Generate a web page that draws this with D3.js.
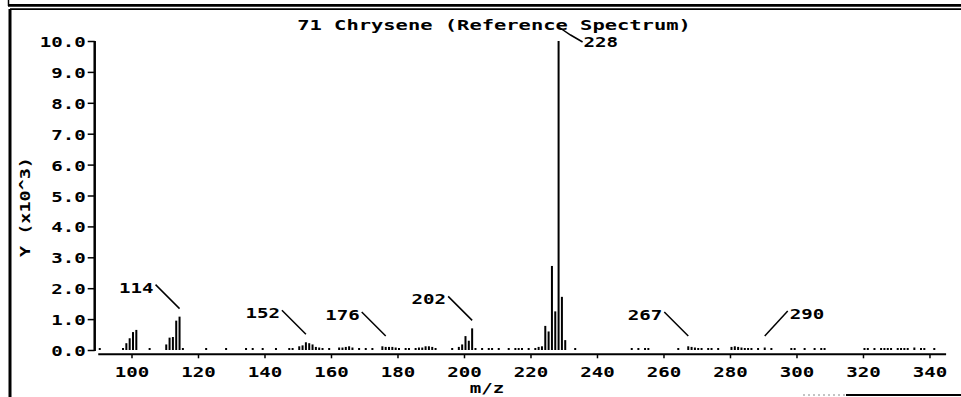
<!DOCTYPE html>
<html><head><meta charset="utf-8">
<script src="https://cdn.jsdelivr.net/npm/d3@7"></script>
<style>
html,body{margin:0;padding:0;background:#fff;}
svg{display:block;}
text{font-family:"DejaVu Sans Mono",monospace;font-weight:bold;fill:#000;font-size:14px;}
</style></head><body>
<svg id="chart" width="961" height="397"></svg>
<script>
// ---------- data ----------
const titleText = "71 Chrysene (Reference Spectrum)";
const xLabel = "m/z";
const yLabel = "Y (x10^3)";
const xTicks = [100,120,140,160,180,200,220,240,260,280,300,320,340];
const yTicks = [0,1,2,3,4,5,6,7,8,9,10];
const mzValues = [90,97,98,99,100,101,105,110,111,112,113,114,115,122,128,134,136,139,143,147,148,
  150,151,152,153,154,155,156,157,159,162,163,164,165,166,168,170,172,175,176,177,178,179,180,182,183,
  185,186,187,188,189,190,191,196,198,199,200,201,202,203,205,207,208,210,213,215,216,217,219,221,222,
  223,224,225,226,227,228,229,230,233,250,252,254,255,264,267,268,269,270,271,273,274,276,280,281,282,
  283,284,285,286,288,290,292,298,299,302,305,307,308,320,321,323,325,326,327,328,330,331,332,333,335,
  337,338,341];
const intensities = [0.06,0.05,0.22,0.38,0.58,0.65,0.05,0.18,0.40,0.42,0.95,1.08,0.06,0.05,0.05,0.06,0.06,0.06,0.06,0.05,0.05,
  0.12,0.15,0.25,0.22,0.18,0.10,0.08,0.05,0.05,0.08,0.08,0.10,0.12,0.08,0.05,0.05,0.05,0.12,0.10,0.10,0.10,0.08,0.06,0.05,0.06,
  0.06,0.08,0.08,0.12,0.12,0.10,0.06,0.06,0.10,0.18,0.45,0.30,0.70,0.06,0.04,0.04,0.04,0.04,0.05,0.05,0.05,0.05,0.06,0.06,0.10,
  0.12,0.78,0.60,2.72,1.25,10.0,1.72,0.32,0.06,0.05,0.04,0.05,0.05,0.06,0.12,0.10,0.08,0.06,0.05,0.05,0.05,0.06,0.10,0.12,0.10,
  0.08,0.06,0.06,0.05,0.05,0.08,0.05,0.06,0.05,0.04,0.04,0.04,0.04,0.06,0.05,0.06,0.04,0.04,0.04,0.05,0.06,0.05,0.04,0.06,0.08,
  0.04,0.06,0.04];
const peakLabels = [114,152,176,202,228,267,290];
// ---------- layout ----------
const labelPlacement = {228:"top", 290:"right"}; // others: left
const CW = 11.5, TITLE_CW = 12.3;

const svg = d3.select("#chart");
const x = d3.scaleLinear().domain([90,345]).range([98.25,946.1]);
const y = d3.scaleLinear().domain([0,10]).range([350,41]);

function stretch(sel, cw){
  sel.each(function(){
    const t = d3.select(this).text();
    d3.select(this).attr("textLength", t.length*cw).attr("lengthAdjust","spacingAndGlyphs");
  });
}

// frame
svg.append("line").attr("x1",8).attr("x2",961).attr("y1",5.3).attr("y2",5.3).attr("stroke","#000").attr("stroke-width",2.7);
svg.append("line").attr("x1",10).attr("x2",961).attr("y1",9.2).attr("y2",9.2).attr("stroke","#000").attr("stroke-width",1.7);
svg.append("line").attr("x1",10).attr("x2",10).attr("y1",9).attr("y2",397).attr("stroke","#000").attr("stroke-width",3);
svg.append("line").attr("x1",8.5).attr("x2",8.5).attr("y1",0).attr("y2",6).attr("stroke","#000").attr("stroke-width",1.5);
svg.append("line").attr("x1",846).attr("x2",961).attr("y1",395).attr("y2",395).attr("stroke","#000").attr("stroke-width",2);
svg.append("line").attr("x1",803).attr("x2",846).attr("y1",395).attr("y2",395).attr("stroke","#888").attr("stroke-width",1).attr("stroke-dasharray","2,3");

// title
svg.append("text").attr("x",494).attr("y",30).attr("text-anchor","middle").text(titleText).call(stretch, TITLE_CW);

// x axis
const gx = svg.append("g").attr("transform","translate(0,354.3)")
  .call(d3.axisBottom(x).tickValues(xTicks).tickSize(4).tickFormat(d=>d));
gx.select(".domain").remove();
gx.selectAll(".tick line").attr("stroke","#000").attr("stroke-width",1.5);
gx.selectAll(".tick text").attr("y",23).attr("dy",null).attr("font-size",14).attr("font-family",null).call(stretch, CW);
svg.append("line").attr("x1",x(90)).attr("x2",x(345)).attr("y1",354.3).attr("y2",354.3).attr("stroke","#000").attr("stroke-width",2);

// y axis
const gy = svg.append("g").attr("transform","translate(94.7,0)")
  .call(d3.axisLeft(y).tickValues(yTicks).tickSize(7).tickFormat(d3.format(".1f")));
gy.select(".domain").remove();
gy.selectAll(".tick line").attr("stroke","#000").attr("stroke-width",1.5);
gy.selectAll(".tick text").attr("x",-9).attr("dy",null).attr("y",5.5).attr("font-size",14).attr("font-family",null).call(stretch, CW);
svg.append("line").attr("x1",94.7).attr("x2",94.7).attr("y1",y(10)).attr("y2",351).attr("stroke","#000").attr("stroke-width",2.5);

// axis titles
svg.append("text").attr("x",487).attr("y",393).attr("text-anchor","middle").text(xLabel).call(stretch, CW);
svg.append("text").attr("transform","translate(30,207) rotate(-90)").attr("text-anchor","middle").text(yLabel).call(stretch, 11.1);

// bars
const bars = mzValues.map((m,i)=>({mz:m, v:intensities[i]}));
svg.append("g").selectAll("rect").data(bars).join("rect")
  .attr("x", d=>x(d.mz)+0.5).attr("width",2)
  .attr("y", d=>Math.min(y(d.v), y(0)-2)).attr("height", d=>Math.max(2, y(0)-y(d.v)))
  .attr("fill","#000");

// peak labels
const lg = svg.append("g");
peakLabels.forEach(m=>{
  const v = intensities[mzValues.indexOf(m)];
  const ex = x(m)+1.5;
  const side = labelPlacement[m] || "left";
  if(side==="top"){
    const yt = y(v);
    lg.append("path").attr("d",`M${ex},${yt-14} L${ex+12},${yt-6} L${ex+24},${yt+1}`).attr("fill","none").attr("stroke","#000").attr("stroke-width",1.5);
    lg.append("text").attr("x",ex+25).attr("y",yt+5.5).text(m).call(stretch, CW);
    return;
  }
  const ey = Math.min(y(v)-8, 336);
  const sx = side==="left" ? ex-24 : ex+23;
  const sy = ey - (side==="left" ? 24 : 25);
  lg.append("line").attr("x1",sx).attr("y1",sy).attr("x2",ex).attr("y2",ey).attr("stroke","#000").attr("stroke-width",1.5);
  lg.append("text").attr("x", side==="left" ? sx-2 : sx+2).attr("y", sy+8)
    .attr("text-anchor", side==="left" ? "end" : "start").text(m).call(stretch, CW);
});
</script>
</body></html>
